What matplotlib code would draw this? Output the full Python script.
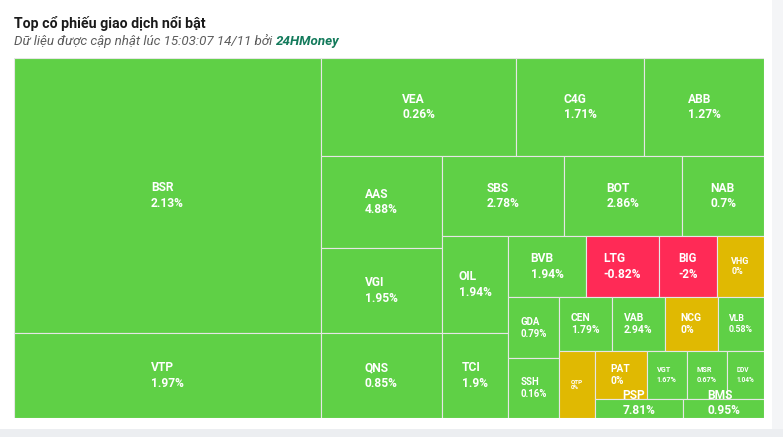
import matplotlib
matplotlib.use("Agg")
import matplotlib.pyplot as plt
from matplotlib.patches import Rectangle
import numpy as np

# Top traded stocks: ticker, traded value (relative units), % change
tickers = ["BSR", "VTP", "VEA", "C4G", "ABB", "AAS", "VGI", "QNS", "SBS", "BOT",
           "NAB", "OIL", "TCI", "BVB", "LTG", "BIG", "VHG", "GDA", "SSH", "CEN",
           "VAB", "NCG", "VLB", "QTP", "PAT", "VGT", "MSR", "DDV", "PSP", "BMS"]
values = [84118, 26187, 19110, 12505, 11760, 11131, 10179, 10287, 9760, 9464,
          6560, 6490, 5670, 4720, 4475, 3555, 2900, 3050, 3000, 2862,
          2862, 2862, 2500, 2412, 2496, 1920, 1920, 1790, 1672, 1545]
changes = [2.13, 1.97, 0.26, 1.71, 1.27, 4.88, 1.95, 0.85, 2.78, 2.86,
           0.7, 1.94, 1.9, 1.94, -0.82, -2, 0, 0.79, 0.16, 1.79,
           2.94, 0, 0.58, 0, 0, 1.67, 0.67, 1.04, 7.81, 0.95]

GREEN = "#5fd046"
RED = "#ff2a56"
YELLOW = "#e0b902"
nan = float("nan")


class Group:
    """Row/column accumulator (low aspect ratio squarified, alternating direction)."""

    def __init__(self, w, h):
        self.w, self.h = w, h
        self.d = 0  # 0 = vertical column, 1 = horizontal row
        self.total = 0.0
        self.nW = self.lW = self.nH = self.lH = 0.0
        self.els = []
        self.lR = self.nR = nan

    def add(self, a):
        ratio = lambda p, q: max(p / q, q / p)
        prev = self.els[-1] if self.els else None
        self.total += a
        if self.d == 0:
            self.lW = self.nW
            self.nW = self.total / self.h
            if prev is None or self.lW == 0:
                self.lR = self.nR = nan
            else:
                self.lR = ratio(self.lW, prev / self.lW)
                self.nR = ratio(self.nW, prev / self.nW)
        else:
            self.lH = self.nH
            self.nH = self.total / self.w
            if prev is None or self.lH == 0:
                self.lR = self.nR = nan
            else:
                self.lR = ratio(prev / self.lH, self.lH)
                self.nR = ratio(prev / self.nH, self.nH)
        self.els.append(a)

    def reset(self):
        self.nW = self.lW = 0.0
        self.els = []
        self.total = 0.0


def squarified(vals, W, H):
    tot = float(sum(vals))
    areas = [v / tot * W * H for v in vals]
    g = Group(W, H)
    pos = [0.0, 0.0]
    out = []

    def flush(last):
        gw, gh = (g.nW, g.nH) if last else (g.lW, g.lH)
        items = g.els if last else g.els[:-1]
        keep = g.els[-1]
        for a in items:
            if g.d == 0:
                out.append((pos[0], pos[1], gw, a / gw))
                pos[1] += a / gw
            else:
                out.append((pos[0], pos[1], a / gh, gh))
                pos[0] += a / gh
        g.reset()
        if g.d == 0:
            g.w -= gw
        else:
            g.h -= gh
        pos[0] = W - g.w
        pos[1] = H - g.h
        g.d = 1 - g.d
        if not last:
            g.add(keep)

    for i, a in enumerate(areas):
        g.add(a)
        if g.nR > g.lR:
            flush(False)
        if i == len(areas) - 1:
            flush(True)
    return out


FW, FH = 783, 437
fig = plt.figure(figsize=(FW / 100, FH / 100), dpi=100)
fig.patch.set_facecolor("white")

# page background bits (scrollbar strip and bottom band)
bg = fig.add_axes([0, 0, 1, 1])
bg.set_xlim(0, FW)
bg.set_ylim(FH, 0)
bg.axis("off")
bg.add_patch(Rectangle((772, 0), FW - 772, 429, facecolor="#f4f5f7", edgecolor="none"))
bg.add_patch(Rectangle((0, 429), FW, FH - 429, facecolor="#eceef1", edgecolor="none"))

t1 = fig.text(14 / FW, 1 - 28 / FH, "Top cổ phiếu giao dịch nổi bật", fontsize=10.2,
              fontweight="bold", family="Roboto", color="#1a1a1a", va="baseline")
t2 = fig.text(14 / FW, 1 - 45.5 / FH, "Dữ liệu được cập nhật lúc 15:03:07 14/11 bởi",
              fontsize=9.6, style="italic", family="Roboto", color="#5c5c5c", va="baseline")
bg.annotate("24HMoney", xy=(1, 0), xycoords=t2, xytext=(3, 0), textcoords="offset points",
            fontsize=9.6, style="italic", fontweight="bold", family="Roboto",
            color="#137a5b", va="bottom", ha="left")

# treemap area
x0, y0, x1, y1 = 14, 58, 764.3, 418
W, H = x1 - x0, y1 - y0
ax = fig.add_axes([x0 / FW, 1 - y1 / FH, W / FW, H / FH])
ax.set_xlim(0, W)
ax.set_ylim(H, 0)
ax.axis("off")

rects = squarified(values, W, H)
for (x, y, w, h), name, chg in zip(rects, tickers, changes):
    color = GREEN if chg > 0 else (RED if chg < 0 else YELLOW)
    ax.add_patch(Rectangle((x, y), w, h, facecolor=color, edgecolor="#e6e6e6", linewidth=0.8))
    px = float(np.clip(0.24 * (w - 10), 5, 12))
    # keep the label block inside the plot area
    cy = min(y + h / 2, H - 1.15 * px - 1)
    ax.text(x + w / 2, cy, f"{name}\n{chg:g}%", ha="center", va="center",
            multialignment="left", color="white", fontweight="bold", family="Roboto",
            fontsize=px * 0.72, linespacing=1.25, clip_on=False)

fig.savefig("out.png", dpi=100)
